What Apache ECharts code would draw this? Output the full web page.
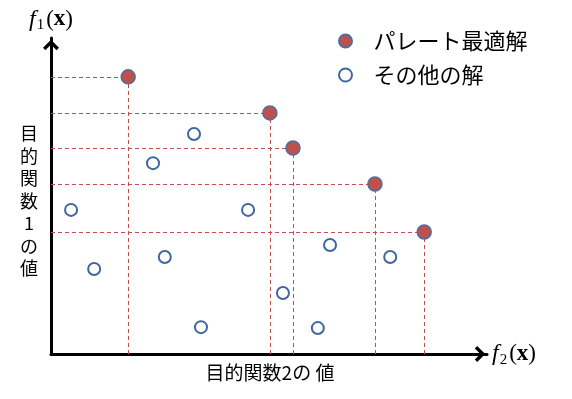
<!DOCTYPE html>
<html>
<head>
<meta charset="utf-8">
<script src="https://cdn.jsdelivr.net/npm/echarts@6/dist/echarts.min.js"></script>
<style>html,body{margin:0;padding:0;background:#fff;}#c{width:572px;height:399px;}</style>
</head>
<body>
<div id="c"></div>
<script>
// Pareto-optimal solutions (f2 on x, f1 on y, arbitrary 0-100 units)
var paretoX = [17.7, 50.2, 55.5, 74.3, 85.6];
var paretoY = [87.7, 76.3, 65.2, 53.8, 38.6];
// Other solutions
var otherX = [32.8, 23.4, 4.6, 45.2, 64.0, 26.1, 77.8, 9.9, 53.2, 34.4, 61.2];
var otherY = [69.6, 60.4, 45.6, 45.6, 34.5, 30.7, 30.7, 26.9, 19.3, 8.5, 8.2];
var seriesNames = ['パレート最適解', 'その他の解'];
var xLabel = '目的関数2の 値';
var yLabel = '目的関数1の値';

var jp = 'Noto Sans CJK JP';
var serif = 'Liberation Serif';

var paretoData = paretoX.map(function (x, i) { return [x, paretoY[i]]; });
var otherData = otherX.map(function (x, i) { return [x, otherY[i]]; });
var guideLines = [];
paretoData.forEach(function (p) {
  guideLines.push([{ coord: [0, p[1]] }, { coord: [p[0], p[1]] }]);
  guideLines.push([{ coord: [p[0], 0] }, { coord: [p[0], p[1]] }]);
});

var chevron = 'path://M0,10 L10,0 L20,10 L17,13 L10,6 L3,13 Z';
var nameRich = {
  f: { fontFamily: serif, fontStyle: 'italic', fontSize: 24, color: '#000' },
  s: { fontFamily: serif, fontSize: 15, color: '#000', padding: [12, 0, 0, 1] },
  p: { fontFamily: serif, fontSize: 23, color: '#000', padding: [0, 0, 0, 2] },
  b: { fontFamily: serif, fontSize: 23, fontWeight: 'bold', color: '#000' },
  q: { fontFamily: serif, fontSize: 23, color: '#000' }
};

var chart = echarts.init(document.getElementById('c'), null, { renderer: 'canvas' });
chart.setOption({
  animation: false,
  backgroundColor: '#fff',
  title: [
    { text: xLabel, left: 270, top: 363, textAlign: 'center', padding: 0,
      textStyle: { fontFamily: jp, fontSize: 19, fontWeight: 'normal', color: '#000' } },
    { text: yLabel.split('').join('\n'), left: 29, top: 122, textAlign: 'center', padding: 0,
      textStyle: { fontFamily: jp, fontSize: 18, fontWeight: 'normal', color: '#000', lineHeight: 22.5 } }
  ],
  legend: {
    orient: 'vertical', left: 338, top: 29, padding: 0,
    itemWidth: 46, itemHeight: 13, itemGap: 10,
    textStyle: { fontFamily: jp, fontSize: 22, color: '#000', lineHeight: 24 },
    data: seriesNames
  },
  grid: { left: 51, top: 38, width: 436, height: 316, containLabel: false },
  xAxis: {
    type: 'value', min: 0, max: 100,
    name: '{f|f}{s|2}{p|(}{b|x}{q|)}', nameLocation: 'end', nameGap: 5,
    nameTextStyle: { rich: nameRich, verticalAlign: 'middle', align: 'left' },
    axisLine: { show: true, onZero: false, lineStyle: { color: '#000', width: 3 },
      symbol: ['none', chevron], symbolSize: [16, 14], symbolOffset: [0, -7] },
    axisTick: { show: false }, axisLabel: { show: false }, splitLine: { show: false }
  },
  yAxis: {
    type: 'value', min: 0, max: 100,
    name: '{f|f}{s|1}{p|(}{b|x}{q|)}', nameLocation: 'end', nameGap: 5,
    nameTextStyle: { rich: nameRich, align: 'center' },
    axisLine: { show: true, onZero: false, lineStyle: { color: '#000', width: 3 },
      symbol: ['none', chevron], symbolSize: [16, 14], symbolOffset: [0, -7] },
    axisTick: { show: false }, axisLabel: { show: false }, splitLine: { show: false }
  },
  series: [
    {
      name: seriesNames[0], type: 'scatter', z: 3,
      symbol: 'circle', symbolSize: 14,
      itemStyle: { color: '#C0504D', borderColor: '#4A6FA0', borderWidth: 1.5, opacity: 1 },
      data: paretoData,
      markLine: {
        silent: true, z: 1, symbol: ['none', 'none'], animation: false,
        label: { show: false },
        lineStyle: { color: '#C0504D', type: [4, 3], width: 1 },
        emphasis: { disabled: true },
        data: guideLines
      }
    },
    {
      name: seriesNames[1], type: 'scatter', z: 3,
      symbol: 'circle', symbolSize: 12,
      itemStyle: { color: '#fff', borderColor: '#41689C', borderWidth: 2, opacity: 1 },
      data: otherData
    }
  ]
});
</script>
</body>
</html>
